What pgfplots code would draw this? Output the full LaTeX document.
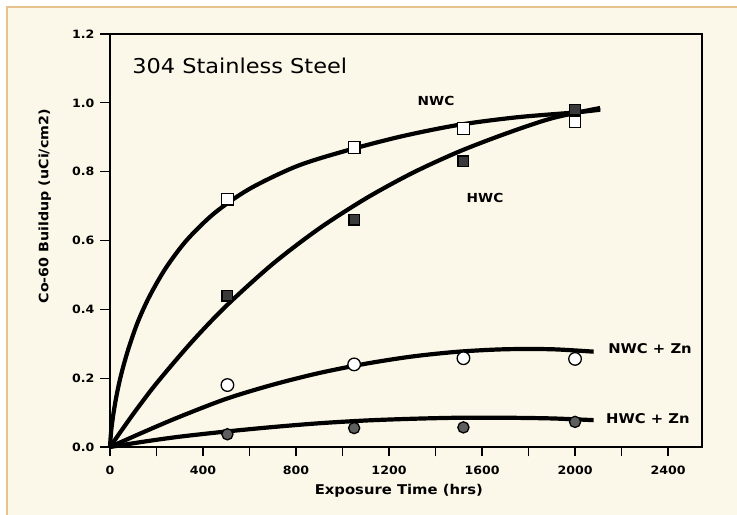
\documentclass[border=0pt]{standalone}
\usepackage{pgfplots}
\pgfplotsset{compat=1.18}
\usepackage{fontspec}
\setmainfont{DejaVu Sans}[FakeStretch=1.1]
\definecolor{paper}{HTML}{FCF8E9}
\definecolor{edge}{HTML}{E8C28E}
\definecolor{hwcfill}{HTML}{3A3A3A}
\definecolor{znfill}{HTML}{5E5E5E}

\begin{document}
\begin{tikzpicture}
% page background with a thin tan edge on the top and left
\path[use as bounding box, fill=white] (-110bp,-68bp) rectangle (627bp,447bp);
\fill[paper] (-103bp,-68bp) rectangle (627bp,440bp);
\draw[edge, line width=1.2bp] (-103bp,-68bp) -- (-103bp,440bp) -- (627bp,440bp);

\begin{axis}[
  at={(0,0)}, anchor=south west,
  scale only axis, width=592bp, height=413bp,
  xmin=0, xmax=2546, ymin=0, ymax=1.2,
  xtick={0,400,800,1200,1600,2000,2400},
  minor xtick={200,600,1000,1400,1800,2200},
  ytick={0,0.2,0.4,0.6,0.8,1.0,1.2},
  tick align=outside, xtick pos=bottom, ytick pos=left,
  major tick length=9.5bp, minor tick length=9.5bp,
  axis line style={line width=1.4bp},
  every tick/.style={black, line width=1.3bp},
  /pgf/number format/assume math mode=true,
  yticklabel style={/pgf/number format/fixed, /pgf/number format/fixed zerofill,
    /pgf/number format/precision=1, xshift=-2.5bp},
  xticklabel style={/pgf/number format/fixed, /pgf/number format/1000 sep={},
    yshift=-6bp},
  ticklabel style={font=\bfseries\fontsize{11.5}{11.5}\selectfont},
  xlabel={Exposure Time (hrs)},
  ylabel={Co-60 Buildup (uCi/cm2)},
  xlabel style={at={(axis description cs:0.488,-0.1065)}, anchor=center,
    font=\bfseries\fontsize{13.5}{13.5}\selectfont},
  ylabel style={at={(axis description cs:-0.11,0.583)}, anchor=center,
    font=\bfseries\fontsize{13}{13}\selectfont},
  clip=false,
]
% measured points
\addplot[only marks, mark=square*, mark size=5.8bp,
  mark options={fill=white, draw=black, line width=1.3bp}]
  coordinates {(505,0.72) (1050,0.87) (1520,0.925) (2000,0.945)};
\addplot[only marks, mark=square*, mark size=5.3bp,
  mark options={fill=hwcfill, draw=black, line width=1.3bp}]
  coordinates {(505,0.44) (1050,0.66) (1520,0.83) (2000,0.98)};
\addplot[only marks, mark=*, mark size=6.3bp,
  mark options={fill=white, draw=black, line width=1.3bp}]
  coordinates {(505,0.18) (1050,0.24) (1520,0.258) (2000,0.256)};
\addplot[only marks, mark=*, mark size=5.6bp,
  mark options={fill=znfill, draw=black, line width=1.3bp}]
  coordinates {(505,0.037) (1050,0.055) (1520,0.057) (2000,0.073)};

% fitted buildup curves
\addplot[smooth, black, line width=4.2bp] coordinates {
  (0,0) (5,0.046) (15,0.098) (30,0.156) (50,0.216) (80,0.287)
  (120,0.364) (170,0.438) (240,0.520) (330,0.601) (450,0.680)
  (600,0.750) (800,0.815) (1000,0.858) (1250,0.902) (1500,0.936)
  (1750,0.958) (2000,0.972) (2108,0.980)};
\addplot[smooth, black, line width=4.2bp] coordinates {
  (0,0) (100,0.096) (200,0.185) (350,0.304) (500,0.410) (700,0.532)
  (900,0.635) (1100,0.722) (1300,0.796) (1500,0.858) (1700,0.910)
  (1900,0.955) (2108,0.985)};
\addplot[smooth, black, line width=4.2bp] coordinates {
  (0,0) (150,0.045) (300,0.088) (500,0.140) (700,0.181) (900,0.215)
  (1100,0.242) (1300,0.263) (1500,0.277) (1700,0.284) (1900,0.284)
  (2080,0.277)};
\addplot[smooth, black, line width=4.2bp] coordinates {
  (0,0) (150,0.016) (300,0.030) (500,0.045) (700,0.058) (900,0.069)
  (1100,0.077) (1300,0.082) (1500,0.085) (1700,0.085) (1900,0.083)
  (2080,0.078)};

% annotations
\node[anchor=west, inner sep=0pt, font=\fontsize{20.5}{20.5}\selectfont]
  at (axis cs:95,1.108) {304 Stainless Steel};
\node[inner sep=0pt, font=\bfseries\fontsize{12.5}{12.5}\selectfont]
  at (axis cs:1402,1.006) {NWC};
\node[inner sep=0pt, font=\bfseries\fontsize{12.5}{12.5}\selectfont]
  at (axis cs:1613,0.724) {HWC};
\node[anchor=west, inner sep=0pt, font=\bfseries\fontsize{13.5}{13.5}\selectfont]
  at (axis cs:2142,0.285) {NWC + Zn};
\node[anchor=west, inner sep=0pt, font=\bfseries\fontsize{13.5}{13.5}\selectfont]
  at (axis cs:2133,0.083) {HWC + Zn};
\end{axis}
\end{tikzpicture}
\end{document}
